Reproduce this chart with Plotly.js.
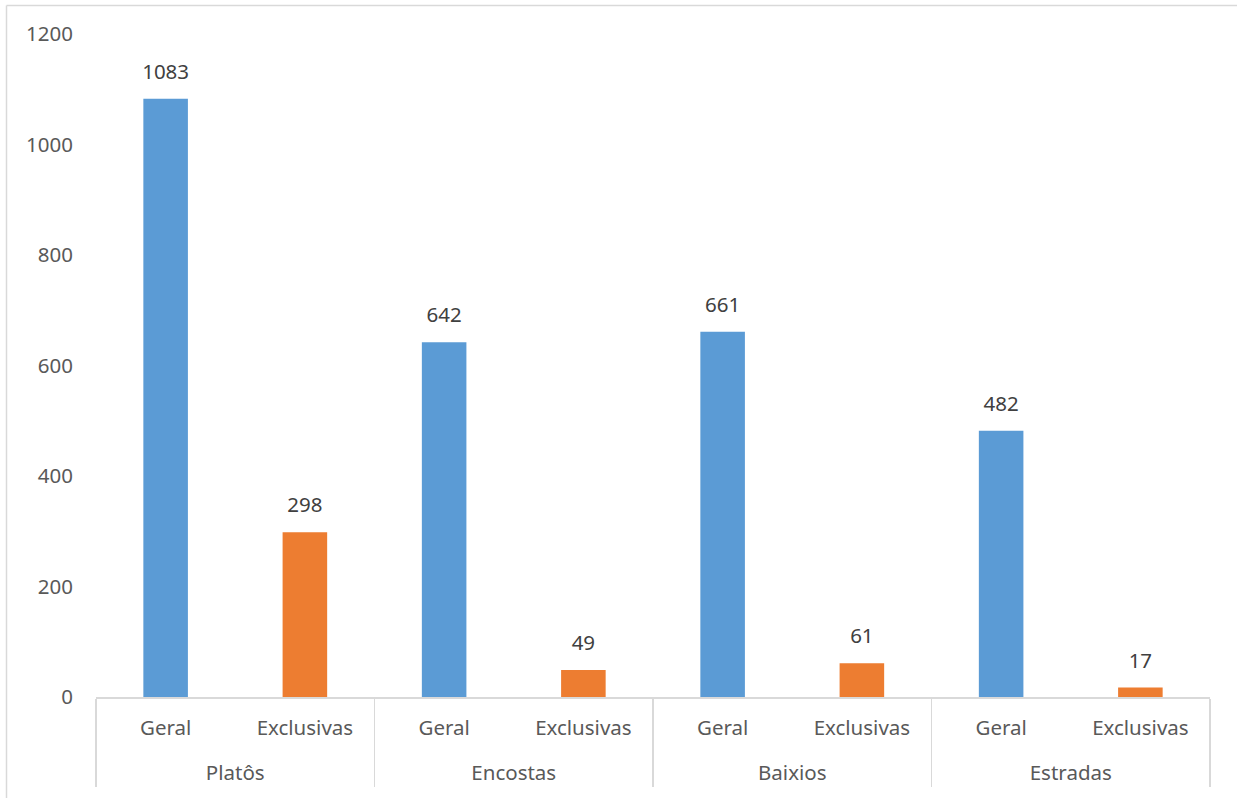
<!DOCTYPE html>
<html>
<head>
<meta charset="utf-8">
<script src="https://cdn.plot.ly/plotly-3.0.1.min.js"></script>
<style>html,body{margin:0;padding:0;background:#fff;}#chart{width:1237px;height:798px;}</style>
</head>
<body>
<div id="chart"></div>
<script>
const groups = ["Platôs", "Platôs", "Encostas", "Encostas", "Baixios", "Baixios", "Estradas", "Estradas"];
const subs = ["Geral", "Exclusivas", "Geral", "Exclusivas", "Geral", "Exclusivas", "Geral", "Exclusivas"];
const values = [1083, 298, 642, 49, 661, 61, 482, 17];
const colors = ["#5B9BD5", "#ED7D31", "#5B9BD5", "#ED7D31", "#5B9BD5", "#ED7D31", "#5B9BD5", "#ED7D31"];
const yTicks = [0, 200, 400, 600, 800, 1000, 1200];

const FONT = "'Noto Sans', 'Open Sans', sans-serif";
const FS = 20.5;

const xCats = [groups.map(g => "<br>" + g), subs];

const bars = {
  type: "bar",
  x: xCats,
  y: values,
  marker: { color: colors },
  hoverinfo: "y",
  showlegend: false
};
const labels = {
  type: "scatter",
  mode: "markers+text",
  x: xCats,
  y: values,
  text: values.map(String),
  textposition: "top center",
  textfont: { family: FONT, size: FS, color: "#404040" },
  marker: { size: 22, color: "rgba(0,0,0,0)" },
  hoverinfo: "skip",
  showlegend: false
};

const W = 1114, H = 663;
const px = p => (p - 96) / W;
const py = p => (697 - p) / H;

const layout = {
  width: 1237,
  height: 798,
  margin: { l: 96, r: 27, t: 34, b: 101 },
  paper_bgcolor: "#ffffff",
  plot_bgcolor: "#ffffff",
  bargap: 0.68,
  font: { family: FONT, size: FS, color: "#595959" },
  xaxis: {
    type: "multicategory",
    showline: true,
    linecolor: "#D9D9D9",
    linewidth: 1.5,
    showgrid: false,
    showdividers: true,
    dividercolor: "#D9D9D9",
    dividerwidth: 1.5,
    ticks: "",
    ticklabelstandoff: 12,
    tickfont: { family: FONT, size: FS, color: "#595959" }
  },
  yaxis: {
    range: [0, 1200],
    tickvals: yTicks,
    ticktext: yTicks.map(String),
    showgrid: false,
    zeroline: false,
    showline: false,
    ticks: "",
    ticklabelstandoff: 22,
    tickfont: { family: FONT, size: FS, color: "#595959" }
  },
  shapes: [
    { type: "line", xref: "paper", yref: "paper", x0: px(6.5), x1: px(1240), y0: py(5.5), y1: py(5.5), line: { color: "#D9D9D9", width: 1.5 } },
    { type: "line", xref: "paper", yref: "paper", x0: px(6.5), x1: px(6.5), y0: py(5.5), y1: py(800), line: { color: "#D9D9D9", width: 1.5 } }
  ]
};

Plotly.newPlot("chart", [bars, labels], layout, { displayModeBar: false, staticPlot: true });
</script>
</body>
</html>
